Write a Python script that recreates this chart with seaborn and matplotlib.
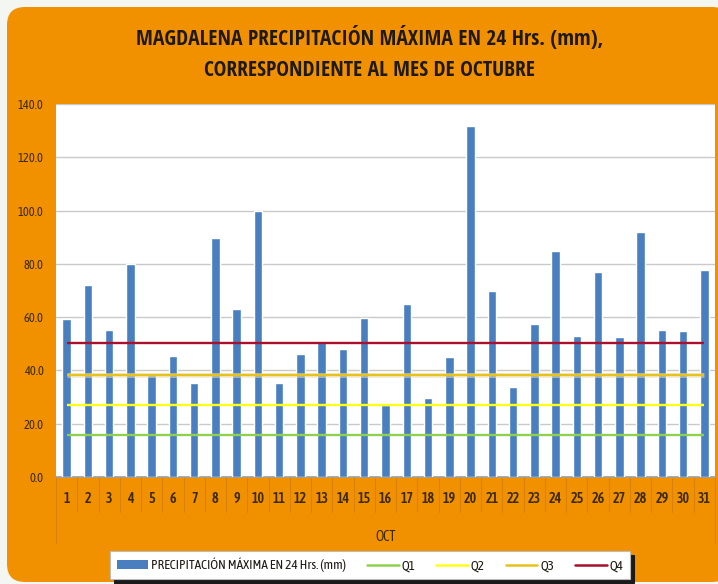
import matplotlib
matplotlib.use("Agg")
import matplotlib.pyplot as plt
import matplotlib.transforms as mtransforms
from matplotlib.patches import FancyBboxPatch, Patch
from matplotlib.lines import Line2D
from matplotlib import font_manager
import seaborn as sns
import pandas as pd

days = [str(d) for d in range(1, 32)]
precip = [59.3, 72.1, 55.2, 80.0, 38.3, 45.4, 35.3, 89.7, 63.1, 99.8,
          35.3, 46.2, 51.0, 48.0, 59.7, 27.0, 65.0, 29.7, 45.0, 131.8,
          69.8, 33.8, 57.4, 84.8, 52.9, 77.0, 52.6, 92.0, 55.2, 54.8, 77.7]
q_names = ["Q1", "Q2", "Q3", "Q4"]
q_values = [15.8, 27.0, 38.3, 50.3]
q_colors = ["#8FD14F", "#FFFF1A", "#E6C21C", "#A8102C"]
yticks = [0, 20, 40, 60, 80, 100, 120, 140]
title = "MAGDALENA PRECIPITACIÓN MÁXIMA EN 24 Hrs. (mm),\nCORRESPONDIENTE AL MES DE OCTUBRE"
series_label = "PRECIPITACIÓN MÁXIMA EN 24 Hrs. (mm)"
xlabel = "OCT"

sns.set_theme(style="white")
names = {f.name for f in font_manager.fontManager.ttflist}


def pick(cands):
    for c in cands:
        if c in names:
            return c
    return "DejaVu Sans"


title_font = pick(["Open Sans Condensed", "Asap Condensed", "Barlow Semi Condensed"])
body_font = pick(["Asap Condensed", "Encode Sans Semi Condensed", "Barlow Semi Condensed"])
plt.rcParams["font.family"] = [body_font, "DejaVu Sans"]

W, H = 7.18, 5.84
fig = plt.figure(figsize=(W, H), dpi=100, facecolor="#F4F7F1")
orange = "#F29100"
r = 0.18
box = FancyBboxPatch((0.07 + r, 0.02 + r), 7.30 - 0.07 - 2 * r, 5.77 - 0.02 - 2 * r,
                     boxstyle=f"round,pad={r}", transform=fig.dpi_scale_trans,
                     facecolor=orange, edgecolor="none", zorder=-10)
fig.patches.append(box)

ax = fig.add_axes([56 / 718, 107 / 584, 659 / 718, 373 / 584])
ax.set_zorder(1)
ax.set_facecolor("white")

df = pd.DataFrame({"day": days, "value": precip})
sns.barplot(data=df, x="day", y="value", color="#4A7FBF", width=0.4,
            saturation=1, ax=ax, zorder=3)

xs = list(range(len(days)))
for name, val, col in zip(q_names, q_values, q_colors):
    if name == "Q3":
        ax.plot([xs[0], xs[-1]], [val, val], color="#E9DDB8", lw=3.6, zorder=4,
                alpha=0.55, solid_capstyle="butt")
    ax.plot([xs[0], xs[-1]], [val, val], color=col, lw=1.7, zorder=5,
            solid_capstyle="butt")

ax.set_xlim(-0.5, len(days) - 0.5)
ax.set_ylim(0, 140)
ax.set_yticks(yticks)
ax.set_yticklabels([f"{v:.1f}" for v in yticks])
ax.yaxis.grid(True, color="#C9C9C9", lw=1)
ax.set_axisbelow(True)
for s in ["top", "right", "left"]:
    ax.spines[s].set_visible(False)
ax.spines["bottom"].set_color("#A0A0A0")
ax.tick_params(axis="y", length=0, pad=9, labelsize=9, labelcolor="#3B2A05")
ax.tick_params(axis="x", length=0, pad=11, labelsize=10, labelcolor="#3B2A05")
for t in ax.get_xticklabels():
    t.set_fontweight("semibold")
ax.set_xlabel(xlabel, fontsize=10, color="#3B2A05", labelpad=17)
ax.set_ylabel("")

trans = mtransforms.blended_transform_factory(ax.transData, ax.transAxes)
sep_col = "#D9820A"
for i in range(len(days) + 1):
    x = i - 0.5
    y2 = -0.177 if i in (0, len(days)) else -0.094
    ax.plot([x, x], [0, y2], color=sep_col, lw=0.8, transform=trans, clip_on=False)

fig.text(0.515, 0.908, title, ha="center", va="center", fontsize=15.5,
         fontweight="bold", color="#1E1A12", linespacing=1.65,
         family=[title_font, "DejaVu Sans"])

handles = [Patch(facecolor="#4A7FBF", edgecolor="none", label=series_label)]
for name, col in zip(q_names, q_colors):
    handles.append(Line2D([0], [0], color=col, lw=1.8, label=name))
leg = fig.legend(handles=handles, loc="center", bbox_to_anchor=(370 / 718, 19 / 584),
                 ncol=5, fontsize=9.5, frameon=True, fancybox=False,
                 shadow={"color": "#1A1A1A", "alpha": 1.0, "ox": 3, "oy": -3},
                 handlelength=2.4, handletextpad=0.2, columnspacing=1.6,
                 borderpad=0.5)
leg.get_frame().set_edgecolor("#BBBBBB")
leg.get_frame().set_linewidth(0.8)
for t in leg.get_texts():
    t.set_color("#1E1A12")

fig.savefig("out.png", dpi=100, facecolor=fig.get_facecolor())
